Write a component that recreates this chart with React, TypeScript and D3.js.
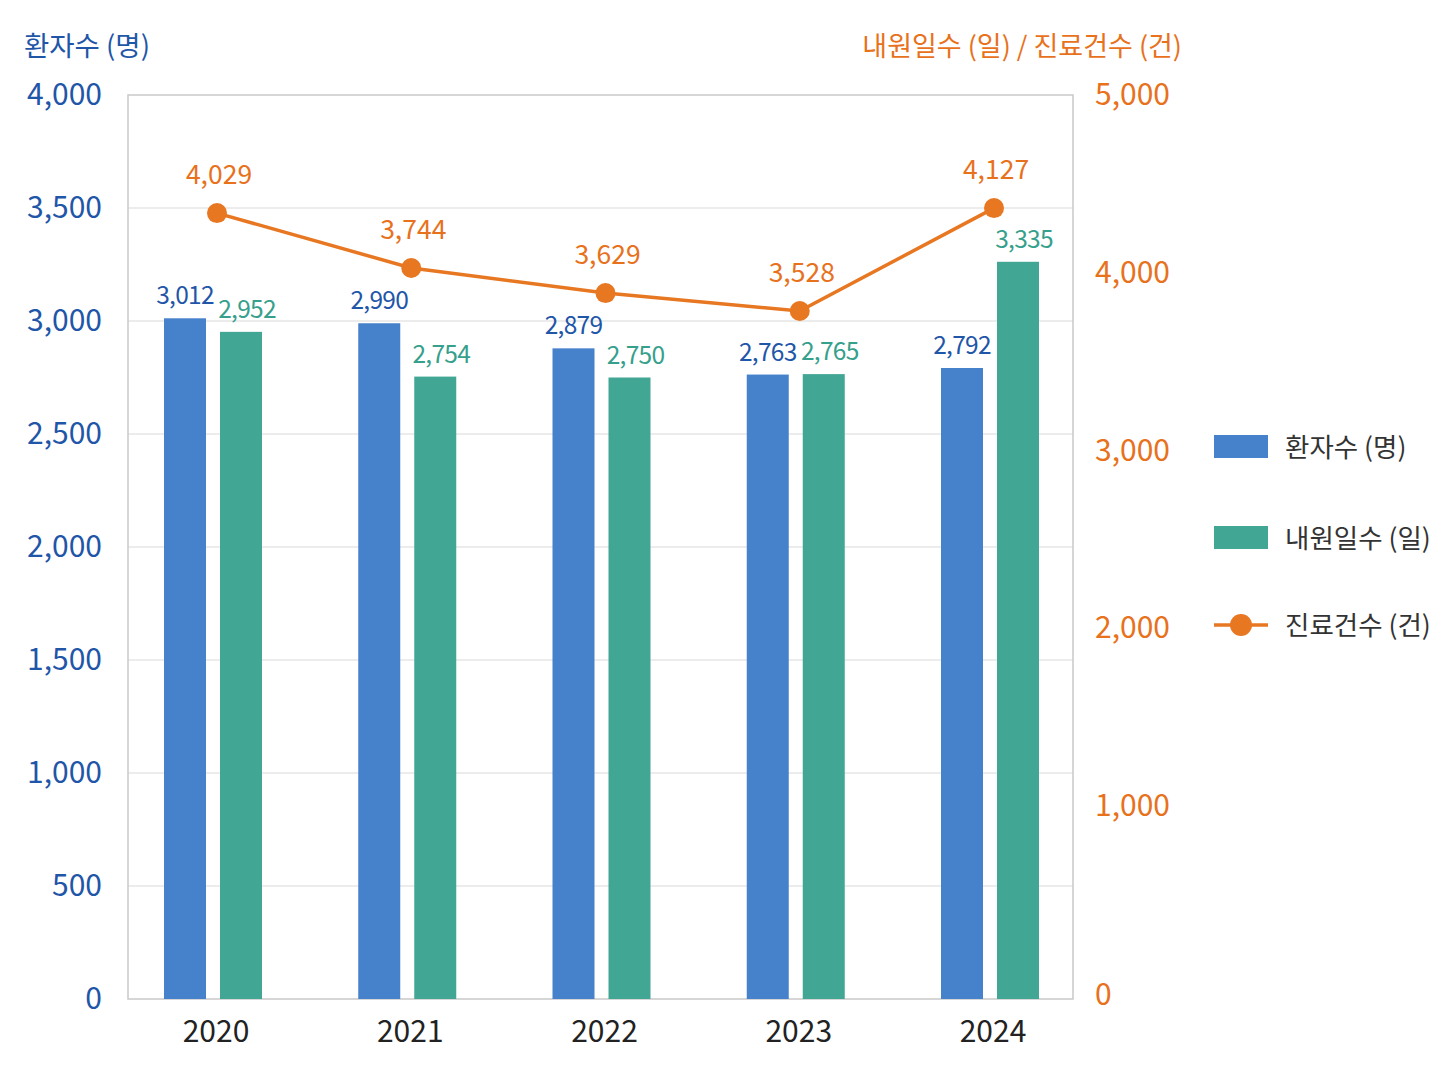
import React from 'react';
import * as d3 from 'd3';

// values
const years = ['2020', '2021', '2022', '2023', '2024'];
const patients = [3012, 2990, 2879, 2763, 2792];
const visitDays = [2952, 2754, 2750, 2765, 3335];
// the 2024 green bar is drawn shorter than its label in the source
const visitHeights = [2952, 2754, 2750, 2765, 3262];
const caseLabels = [4029, 3744, 3629, 3528, 4127];
// the source draws the line higher than its printed labels; heights
const caseHeights = [4336, 4027, 3886, 3785, 4364];

const leftTicks = [0, 500, 1000, 1500, 2000, 2500, 3000, 3500, 4000];
const rightTicks = [0, 1000, 2000, 3000, 4000, 5000];

const legendItems = ['환자수 (명)', '내원일수 (일)', '진료건수 (건)'];

const W = 1448;
const H = 1086;
const plot = { left: 128, right: 1073, top: 95, bottom: 999 };

const BLUE = '#4681CB';
const GREEN = '#42A695';
const ORANGE = '#E87722';
const BLUE_TXT = '#1F56A8';
const GREEN_TXT = '#36A08C';
const ORANGE_TXT = '#E8711C';
const FONT = '"Noto Sans CJK KR", "Noto Sans", sans-serif';

const fmt = d3.format(',');

export default function App() {
	const x = d3.scalePoint<string>().domain(years).range([213, 990]);
	const yLeft = d3.scaleLinear().domain([0, 4000]).range([plot.bottom, plot.top]);
	// right axis in the source runs a little short of the plot floor
	const yRight = d3.scaleLinear().domain([0, 5000]).range([984, plot.top]);

	const barW = 42;
	const gap = 7;

	const line = d3
		.line<number>()
		.x((d, i) => x(years[i])! + 4)
		.y(d => yRight(d));

	return (
		<svg width={W} height={H} style={{ position: 'absolute', left: 0, top: 0, background: '#fff' }} fontFamily={FONT}>
			{/* gridlines */}
			{leftTicks.slice(1, -1).map(t => (
				<line key={t} x1={plot.left} x2={plot.right} y1={yLeft(t)} y2={yLeft(t)} stroke="#e6e6e6" strokeWidth={1.5} />
			))}
			<rect x={plot.left} y={plot.top} width={plot.right - plot.left} height={plot.bottom - plot.top} fill="none" stroke="#c9c9c9" strokeWidth={1.5} />

			{/* axis titles */}
			<text x={24} y={56} fontSize={27.5} fill={BLUE_TXT}>환자수 (명)</text>
			<text x={1182} y={56} fontSize={27} fill={ORANGE_TXT} textAnchor="end">내원일수 (일) / 진료건수 (건)</text>

			{/* left ticks */}
			{leftTicks.map(t => (
				<text key={t} x={102} y={yLeft(t) + 10} fontSize={30} fill={BLUE_TXT} textAnchor="end">{fmt(t)}</text>
			))}
			{/* right ticks */}
			{rightTicks.map(t => (
				<text key={t} x={1095} y={(t === 0 ? plot.bottom - 4 : yRight(t)) + 10} fontSize={30} fill={ORANGE_TXT}>{fmt(t)}</text>
			))}

			{/* bars */}
			{years.map((yr, i) => (
				<g key={yr}>
					<rect x={x(yr)! - gap - barW} y={yLeft(patients[i])} width={barW} height={plot.bottom - yLeft(patients[i])} fill={BLUE} />
					<rect x={x(yr)! + gap} y={yLeft(visitHeights[i])} width={barW} height={plot.bottom - yLeft(visitHeights[i])} fill={GREEN} />
					<text x={x(yr)! - gap - barW / 2} y={yLeft(patients[i]) - 14} fontSize={24.5} letterSpacing={-0.7} fill={BLUE_TXT} textAnchor="middle">{fmt(patients[i])}</text>
					<text x={x(yr)! + gap + barW / 2 + 6} y={yLeft(visitHeights[i]) - 14} fontSize={24.5} letterSpacing={-0.7} fill={GREEN_TXT} textAnchor="middle">{fmt(visitDays[i])}</text>
					<text x={x(yr)! + 3} y={1042} fontSize={30} fill="#222" textAnchor="middle">{yr}</text>
				</g>
			))}

			{/* line */}
			<path d={line(caseHeights)!} fill="none" stroke={ORANGE} strokeWidth={3.5} />
			{caseHeights.map((v, i) => (
				<g key={years[i]}>
					<circle cx={x(years[i])! + 4} cy={yRight(v)} r={10} fill={ORANGE} />
					<text x={x(years[i])! + 6} y={yRight(v) - 29} fontSize={26.5} fill={ORANGE_TXT} textAnchor="middle">{fmt(caseLabels[i])}</text>
				</g>
			))}

			{/* legend */}
			<g>
				<rect x={1214} y={435} width={54} height={23} fill={BLUE} />
				<text x={1285} y={457} fontSize={26.5} fill="#333">{legendItems[0]}</text>
				<rect x={1214} y={526} width={54} height={23} fill={GREEN} />
				<text x={1285} y={548} fontSize={26.5} fill="#333">{legendItems[1]}</text>
				<line x1={1214} x2={1268} y1={625} y2={625} stroke={ORANGE} strokeWidth={3.5} />
				<circle cx={1241} cy={625} r={11} fill={ORANGE} />
				<text x={1285} y={635} fontSize={26.5} fill="#333">{legendItems[2]}</text>
			</g>
		</svg>
	);
}
